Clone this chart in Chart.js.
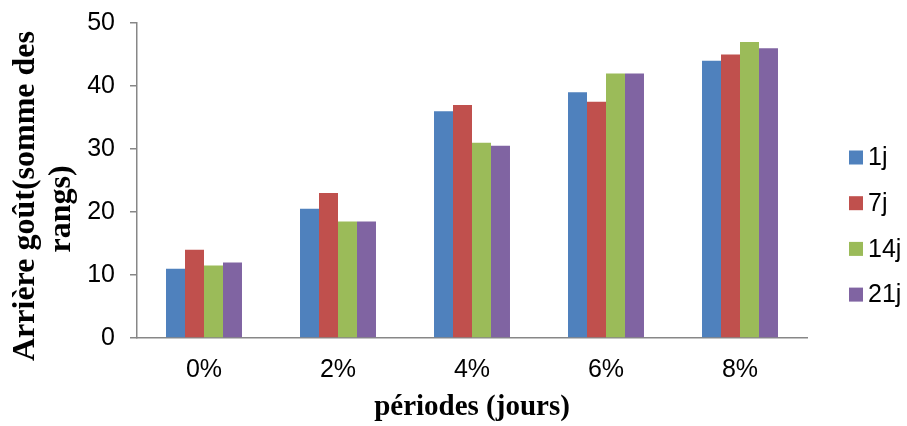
<!DOCTYPE html>
<html>
<head>
<meta charset="utf-8">
<script src="https://cdn.jsdelivr.net/npm/chart.js@4"></script>
<style>
  html, body { margin: 0; padding: 0; background: #ffffff; }
  #wrap { width: 907px; height: 426px; position: relative; }
</style>
</head>
<body>
<div id="wrap"><canvas id="c" width="907" height="426"></canvas></div>
<script>
// Concentration categories (x axis)
const categories = ['0%', '2%', '4%', '6%', '8%'];

// Storage periods (series)
const seriesNames = ['1j', '7j', '14j', '21j'];

// Aftertaste rank sums per storage period
const values1j  = [11, 20.5, 36, 39, 44];
const values7j  = [14, 23, 37, 37.5, 45];
const values14j = [11.5, 18.5, 31, 42, 47];
const values21j = [12, 18.5, 30.5, 42, 46];

// Y axis tick range
const yTicks = [0, 10, 20, 30, 40, 50];

const yTitleLines = ['Arrière goût(somme des', 'rangs)'];
const xTitle = 'périodes (jours)';

const colors = ['#4F81BD', '#C0504D', '#9BBB59', '#8064A2'];
const seriesValues = [values1j, values7j, values14j, values21j];

const datasets = seriesNames.map((name, i) => ({
  label: name,
  data: seriesValues[i],
  backgroundColor: colors[i],
  borderWidth: 0,
  categoryPercentage: 0.567,
  barPercentage: 1.0
}));

// Legend drawn at the right side, one square per series
const sideLegend = {
  id: 'sideLegend',
  afterDraw(chart) {
    const ctx = chart.ctx;
    ctx.save();
    ctx.font = '25px "Liberation Sans", Arial, sans-serif';
    ctx.textBaseline = 'middle';
    ctx.textAlign = 'left';
    chart.data.datasets.forEach((ds, i) => {
      const cy = 157.5 + i * 45.7;
      ctx.fillStyle = ds.backgroundColor;
      ctx.fillRect(849, cy - 7, 14, 14);
      ctx.fillStyle = '#000000';
      ctx.fillText(ds.label, 868, cy + 1);
    });
    ctx.restore();
  }
};

// Two-line rotated y axis title
const yTitlePlugin = {
  id: 'yTitlePlugin',
  afterDraw(chart) {
    const ctx = chart.ctx;
    ctx.save();
    ctx.font = 'bold 32px "Liberation Serif", "Times New Roman", serif';
    ctx.fillStyle = '#000000';
    ctx.textAlign = 'center';
    ctx.textBaseline = 'alphabetic';
    const pos = [[34, 196], [70, 209]];
    yTitleLines.forEach((line, i) => {
      ctx.save();
      ctx.translate(pos[i][0], pos[i][1]);
      ctx.rotate(-Math.PI / 2);
      ctx.fillText(line, 0, 0);
      ctx.restore();
    });
    ctx.restore();
  }
};

new Chart(document.getElementById('c'), {
  type: 'bar',
  data: { labels: categories, datasets: datasets },
  plugins: [sideLegend, yTitlePlugin],
  options: {
    responsive: false,
    animation: false,
    devicePixelRatio: 1,
    layout: { padding: { left: 0, right: 100, top: 23, bottom: 0 } },
    plugins: {
      legend: { display: false },
      tooltip: { enabled: false },
      title: { display: false }
    },
    scales: {
      x: {
        grid: { display: false, drawTicks: false },
        border: { display: true, color: '#878787', width: 1.5 },
        ticks: {
          color: '#000000',
          font: { family: '"Liberation Sans", Arial, sans-serif', size: 25 },
          padding: 17
        },
        title: {
          display: true,
          text: xTitle,
          color: '#000000',
          font: { family: '"Liberation Serif", "Times New Roman", serif', size: 29, weight: 'bold' },
          padding: { top: 0, bottom: 1 }
        },
        afterFit(scale) { scale.height = 88; }
      },
      y: {
        min: yTicks[0],
        max: yTicks[yTicks.length - 1],
        afterBuildTicks(scale) { scale.ticks = yTicks.map(v => ({ value: v })); },
        grid: { drawOnChartArea: false, drawTicks: true, tickLength: 7, color: '#878787', lineWidth: 1.5 },
        border: { display: true, color: '#878787', width: 1.5 },
        ticks: {
          color: '#000000',
          font: { family: '"Liberation Sans", Arial, sans-serif', size: 25 },
          padding: 15
        },
        afterFit(scale) {
          scale.width = 137;
          scale.paddingTop = 0;
          scale.paddingBottom = 0;
        }
      }
    }
  }
});
</script>
</body>
</html>
